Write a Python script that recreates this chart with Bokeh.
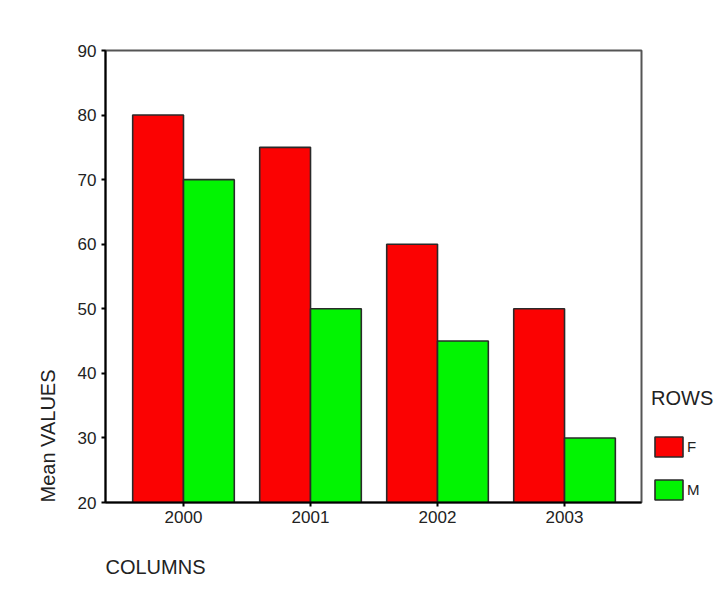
from bokeh.plotting import figure
from bokeh.models import Range1d, FixedTicker, Legend, LegendItem, ColumnDataSource, Title
from bokeh.embed import file_html
from bokeh.resources import INLINE

years = ["2000", "2001", "2002", "2003"]
f_values = [80, 75, 60, 50]
m_values = [70, 50, 45, 30]
y_ticks = [20, 30, 40, 50, 60, 70, 80, 90]

FONT = "Liberation Sans"
TXT = "#222222"

idx = list(range(len(years)))
src = ColumnDataSource(dict(
    xf=[i - 0.2 for i in idx], xm=[i + 0.2 for i in idx],
    f=f_values, m=m_values,
))

p = figure(frame_width=536, frame_height=452, output_backend="svg", toolbar_location=None,
           x_range=Range1d(-0.614, 3.606), y_range=Range1d(20, 90),
           min_border_left=105, min_border_right=84, min_border_top=50, min_border_bottom=95)
p.background_fill_color = "white"
p.border_fill_color = "white"
p.outline_line_color = "#555555"
p.outline_line_width = 2
p.xgrid.visible = False
p.ygrid.visible = False

rf = p.vbar(x="xf", top="f", bottom=20, width=0.4, source=src,
            fill_color="#fb0202", line_color="#2a2a2a", line_width=1.6)
rm = p.vbar(x="xm", top="m", bottom=20, width=0.4, source=src,
            fill_color="#02f402", line_color="#2a2a2a", line_width=1.6)

p.xaxis.ticker = FixedTicker(ticks=idx)
p.xaxis.major_label_overrides = {i: y for i, y in zip(idx, years)}
p.yaxis.ticker = FixedTicker(ticks=y_ticks)
for ax in (p.xaxis, p.yaxis):
    ax.axis_line_color = "black"
    ax.axis_line_width = 2
    ax.major_tick_in = 0
    ax.major_tick_out = 4
    ax.major_tick_line_width = 2
    ax.minor_tick_line_color = None
    ax.major_label_text_font = FONT
    ax.major_label_text_font_size = "17px"
    ax.major_label_text_color = TXT
p.xaxis.major_label_standoff = 4
p.yaxis.major_label_standoff = 5

legend = Legend(items=[LegendItem(label="F", renderers=[rf]), LegendItem(label="M", renderers=[rm])],
                location=(10, 0), orientation="vertical",
                title="ROWS", title_text_font=FONT, title_text_font_size="20px",
                title_text_font_style="normal", title_text_color=TXT, title_standoff=24,
                glyph_width=35, glyph_height=25, label_height=25, spacing=18,
                label_standoff=1, padding=0, margin=0,
                border_line_color=None, background_fill_alpha=0,
                label_text_font=FONT, label_text_font_size="15px", label_text_color=TXT)
p.add_layout(legend, "right")

p.add_layout(Title(text="Mean VALUES", align="left", text_font=FONT, text_font_size="20px",
                   text_font_style="normal", text_color=TXT, standoff=32), "left")
p.add_layout(Title(text="COLUMNS", align="left", text_font=FONT, text_font_size="20px",
                   text_font_style="normal", text_color=TXT, standoff=56), "below")

open("out.html", "w").write(file_html(p, INLINE))
